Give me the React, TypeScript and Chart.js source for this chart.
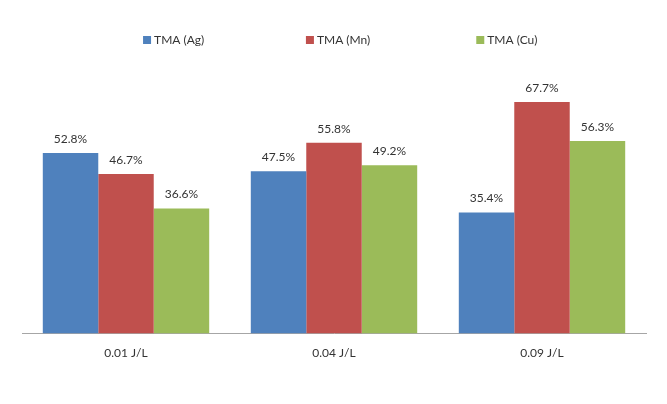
import React, { useEffect, useRef } from "react";
import { Chart, registerables } from "chart.js";

Chart.register(...registerables);

const categories = ["0.01 J/L", "0.04 J/L", "0.09 J/L"];
const seriesNames = ["TMA (Ag)", "TMA (Mn)", "TMA (Cu)"];
const agValues = [52.8, 47.5, 35.4];
const mnValues = [46.7, 55.8, 67.7];
const cuValues = [36.6, 49.2, 56.3];
const colors = ["#4F81BD", "#C0504D", "#9BBB59"];
const FONT = "Lato, 'Open Sans', sans-serif";

const valueLabels = {
  id: "valueLabels",
  afterDatasetsDraw(chart: any) {
    const ctx = chart.ctx;
    ctx.save();
    ctx.font = `12px ${FONT}`;
    ctx.fillStyle = "#333333";
    ctx.textAlign = "center";
    ctx.textBaseline = "middle";
    chart.data.datasets.forEach((ds: any, i: number) => {
      const meta = chart.getDatasetMeta(i);
      meta.data.forEach((bar: any, j: number) => {
        ctx.fillText(ds.data[j].toFixed(1) + "%", bar.x, bar.y - 14);
      });
    });
    ctx.restore();
  },
};

const customLegend = {
  id: "customLegend",
  afterDraw(chart: any) {
    const ctx = chart.ctx;
    const area = chart.chartArea;
    const w = area.right - area.left;
    const starts = [0.194, 0.455, 0.728];
    ctx.save();
    ctx.font = `12px ${FONT}`;
    ctx.textBaseline = "middle";
    ctx.textAlign = "left";
    chart.data.datasets.forEach((ds: any, i: number) => {
      const x = area.left + w * starts[i];
      const y = 40;
      ctx.fillStyle = ds.backgroundColor;
      ctx.fillRect(x, y - 4, 8, 8);
      ctx.fillStyle = "#333333";
      ctx.fillText(ds.label, x + 11, y);
    });
    ctx.restore();
  },
};

export default function App() {
  const ref = useRef<HTMLCanvasElement>(null);
  useEffect(() => {
    if (!ref.current) return;
    const chart = new Chart(ref.current, {
      type: "bar",
      data: {
        labels: categories,
        datasets: [
          { label: seriesNames[0], data: agValues, backgroundColor: colors[0] },
          { label: seriesNames[1], data: mnValues, backgroundColor: colors[1] },
          { label: seriesNames[2], data: cuValues, backgroundColor: colors[2] },
        ],
      },
      options: {
        animation: false,
        responsive: false,
        maintainAspectRatio: false,
        layout: { padding: { left: 22, right: 21, top: 60, bottom: 40 } },
        plugins: {
          legend: { display: false },
          tooltip: { enabled: false },
        },
        datasets: {
          bar: { categoryPercentage: 0.8, barPercentage: 1.0 },
        },
        scales: {
          x: {
            grid: { display: false },
            border: { display: true, color: "#A6A6A6", width: 1 },
            ticks: { color: "#333333", font: { family: FONT, size: 12 }, padding: 4 },
          },
          y: {
            display: false,
            min: 0,
            max: 80,
          },
        },
      },
      plugins: [valueLabels, customLegend],
    });
    return () => chart.destroy();
  }, []);
  return (
    <div style={{ position: "fixed", left: 0, top: 0, width: 667, height: 404, background: "#fff" }}>
      <canvas ref={ref} width={667} height={404} style={{ width: 667, height: 404 }} />
    </div>
  );
}
